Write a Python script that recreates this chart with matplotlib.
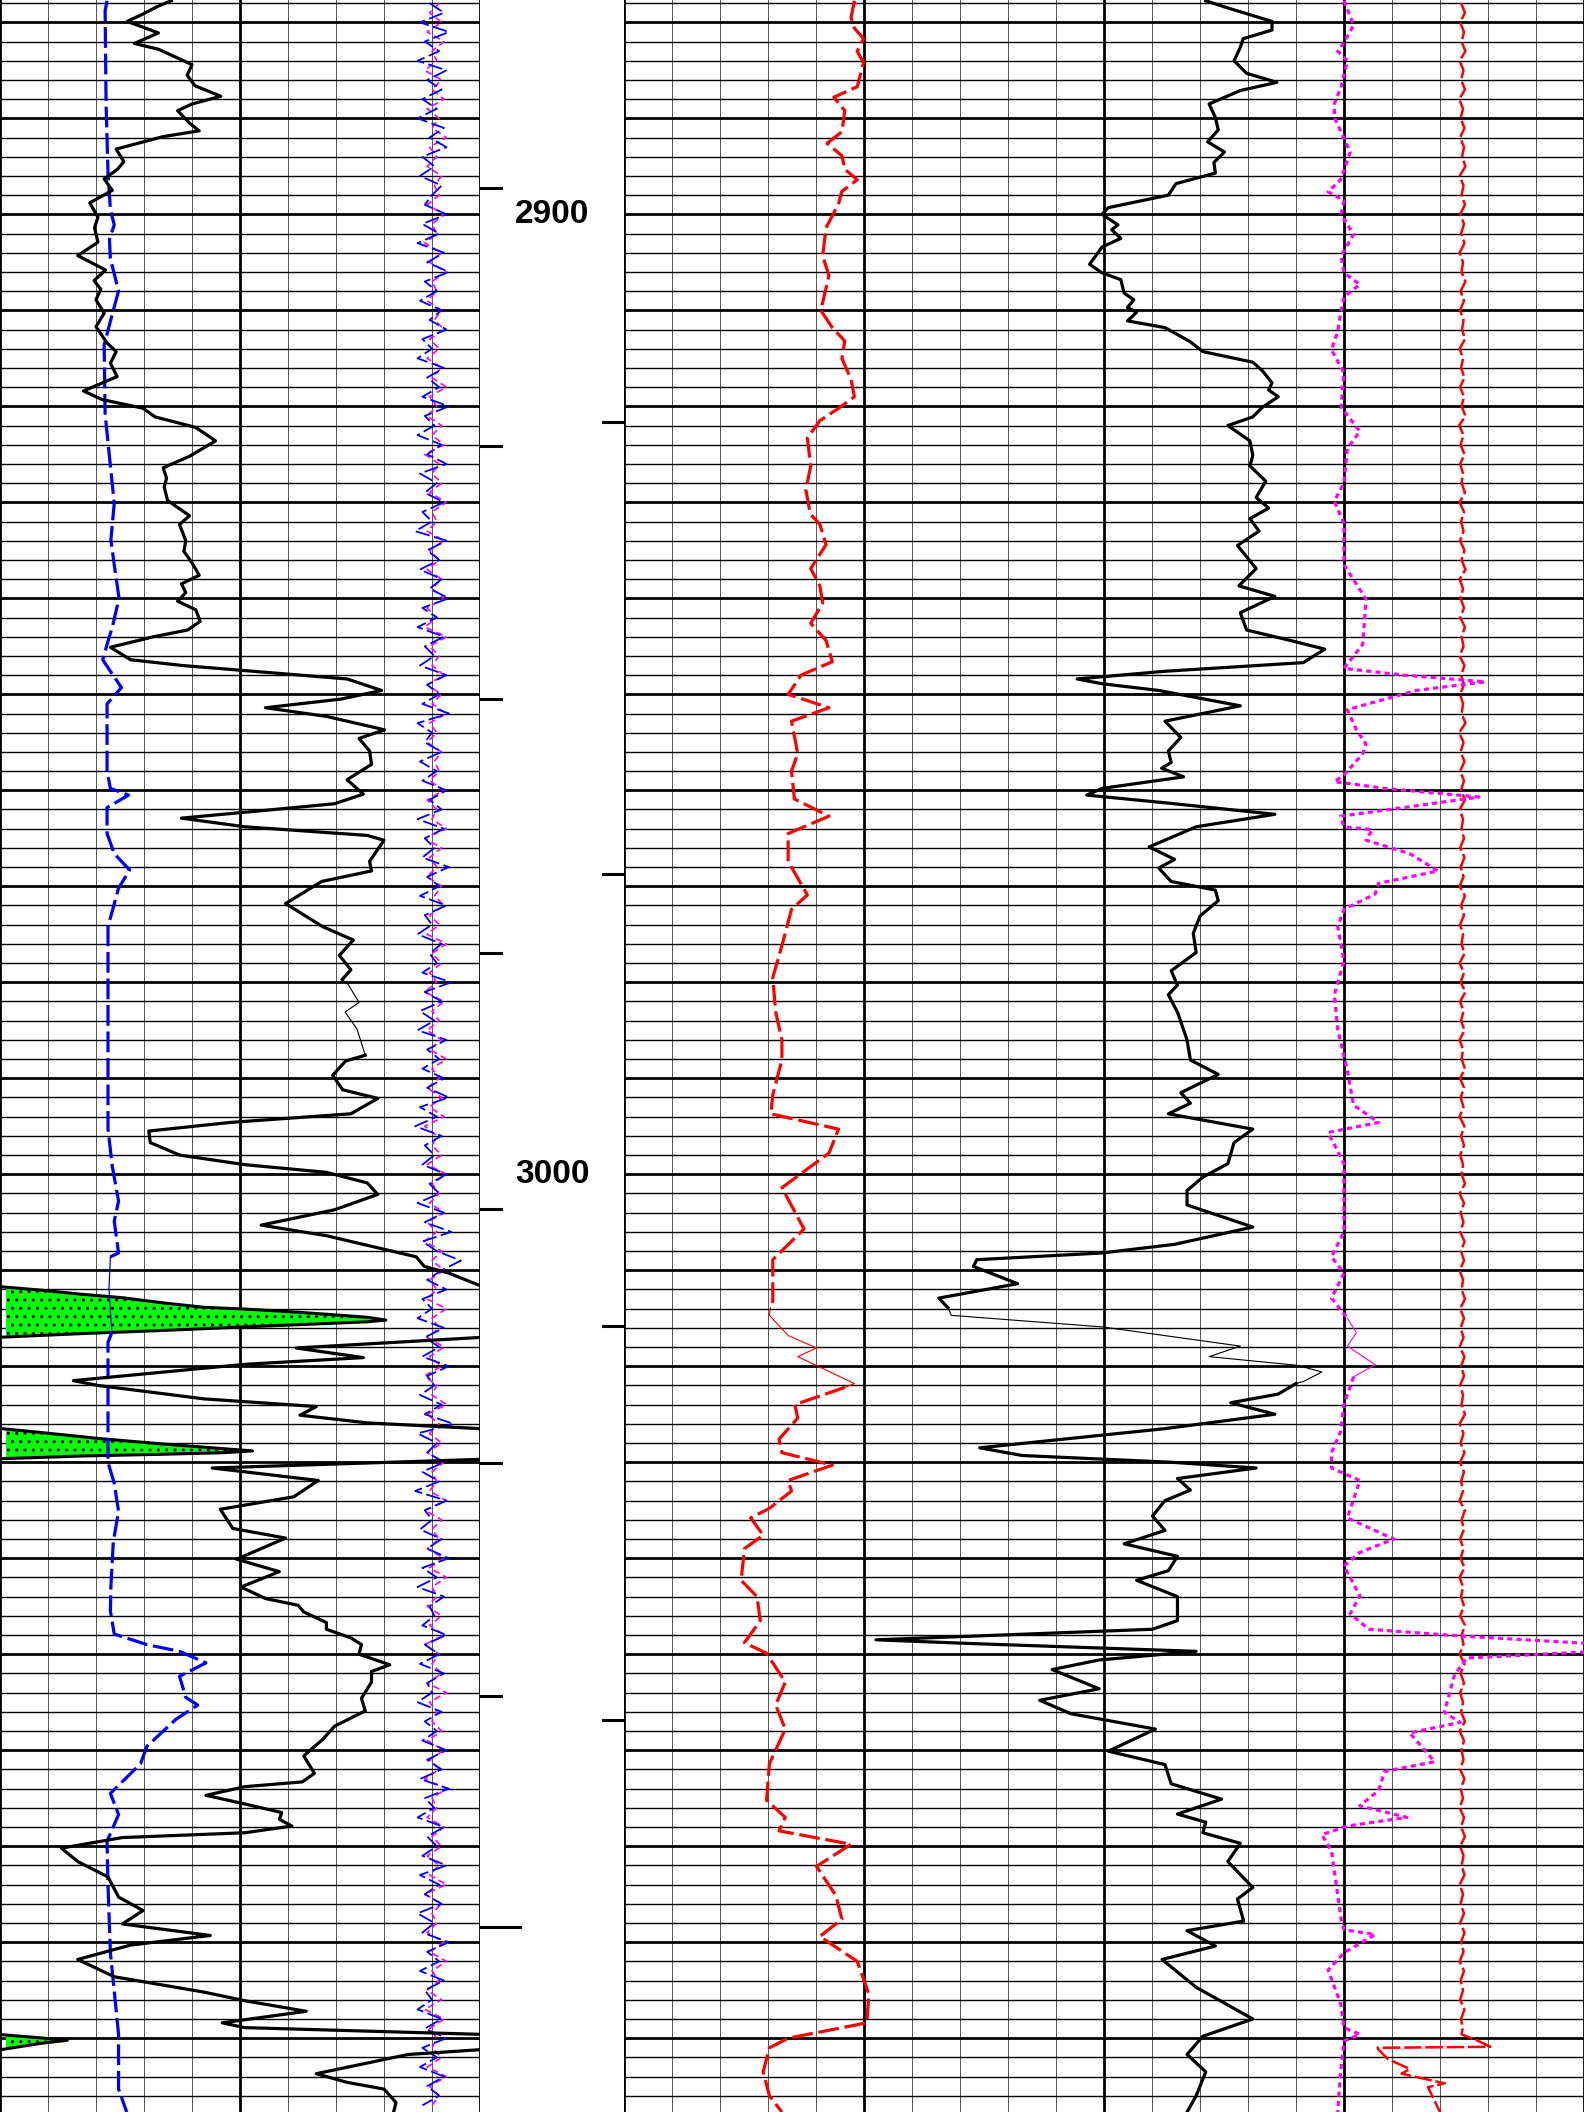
import numpy as np
import matplotlib
matplotlib.use('Agg')
import matplotlib.pyplot as plt

# ---------------- dados (profundidade / valor em divisoes) ----------------
# faixa esquerda: 0..10 divisoes ; faixa direita: 0..20 divisoes

gr_d = [2877.75, 2878.3, 2879.2, 2879.9, 2881.1, 2882.2, 2882.8, 2884.4, 2885.5, 2886.6,
        2887.7, 2888.5, 2889.2, 2890.5, 2891.3, 2891.9, 2893.2, 2894.5, 2895.3, 2896.3,
        2897.5, 2898.8, 2900.3, 2901.4, 2902.9, 2904.3, 2905.8, 2906.9, 2907.8, 2908.9,
        2910.3, 2911.7, 2913.4, 2914.3, 2915.5, 2916.9, 2918.4, 2919.3, 2920.2, 2921.1,
        2922.2, 2923.6, 2925.2, 2926.4, 2927.5, 2928.4, 2929.8, 2931.4, 2932.3, 2934.0,
        2935.1, 2936.3, 2937.6, 2938.5, 2939.4, 2940.3, 2941.2, 2942.4, 2943.3, 2944.0,
        2945.1, 2946.4, 2947.0, 2947.5, 2948.4, 2949.6, 2950.5, 2951.4, 2952.3, 2953.7,
        2954.6, 2955.9, 2957.3, 2958.9, 2960.4, 2961.4, 2962.1, 2962.9, 2963.8, 2964.7,
        2965.2, 2967.4, 2968.4, 2969.5, 2971.8, 2974.2, 2975.6, 2977.2, 2978.7, 2979.7,
        2980.2, 2982.1, 2983.1, 2984.9, 2987.6, 2988.2, 2989.7, 2991.2, 2992.1, 2993.7,
        2994.6, 2995.5, 2996.7, 2998.0, 2999.0, 2999.8, 3000.9, 3002.1, 3003.7, 3005.3,
        3006.4, 3008.6, 3009.6, 3010.3, 3011.6, 3012.5, 3014.5, 3016.2, 3017.0, 3018.1,
        3019.1, 3019.8, 3021.5, 3022.0, 3023.4, 3024.2, 3025.1, 3025.9, 3026.5, 3027.5,
        3028.8, 3029.7, 3030.6, 3031.9, 3033.6, 3034.9, 3036.9, 3037.9, 3040.1, 3041.4,
        3043.0, 3044.2, 3044.9, 3045.6, 3046.7, 3047.4, 3048.3, 3049.0, 3050.0, 3051.1,
        3051.8, 3052.9, 3054.6, 3055.9, 3057.5, 3058.9, 3060.0, 3060.6, 3062.4, 3063.3,
        3063.8, 3064.7, 3065.6, 3066.5, 3067.2, 3067.9, 3068.6, 3069.1, 3070.2, 3071.6,
        3073.2, 3075.3, 3076.7, 3078.1, 3079.3, 3080.3, 3081.8, 3083.6, 3085.2, 3086.1,
        3087.2, 3088.4, 3088.9, 3089.6, 3090.5, 3091.2, 3091.7, 3093.7, 3094.6, 3095.3,
        3096.7, 3097.7]
gr_v = [3.57, 3.3, 2.95, 2.65, 3.3, 2.8, 3.3, 4.0, 3.9, 4.06,
        4.6, 4.0, 3.7, 3.95, 4.15, 3.4, 2.42, 2.58, 2.45, 2.17,
        2.34, 1.87, 2.04, 1.97, 2.04, 1.62, 2.2, 1.96, 2.1, 2.0,
        2.17, 2.0, 2.23, 2.42, 2.3, 2.44, 1.74, 2.13, 2.98, 3.23,
        4.08, 4.49, 3.95, 3.4, 3.47, 3.42, 3.49, 3.95, 3.74, 3.87,
        3.83, 4.0, 4.15, 3.78, 3.87, 3.7, 4.08, 4.17, 3.91, 3.2,
        2.3, 2.72, 3.8, 5.02, 7.23, 7.95, 7.1, 5.53, 6.8, 8.01,
        7.48, 7.7, 7.74, 7.23, 7.57, 6.97, 5.5, 3.78, 5.1, 7.65,
        8.0, 7.7, 7.74, 6.7, 5.95, 6.72, 7.36, 7.07, 7.31, 7.13,
        7.25, 7.48, 7.19, 7.44, 7.61, 7.2, 6.93, 7.14, 7.87, 7.31,
        4.8, 3.1, 3.13, 3.74, 5.1, 6.8, 7.65, 7.87, 6.97, 5.44,
        6.8, 8.67, 8.84, 9.35, 10.0, 11.5, 12.5, 11.5, 10.0, 6.17,
        7.57, 5.1, 1.53, 2.04, 4.25, 6.59, 6.25, 7.65, 10.0, 12.0,
        12.0, 10.0, 4.42, 6.63, 6.12, 4.59, 4.85, 5.95, 4.93, 5.82,
        5.02, 5.53, 6.21, 6.33, 6.8, 6.8, 7.31, 7.53, 7.48, 8.12,
        7.74, 7.74, 7.53, 7.61, 6.97, 6.72, 6.46, 6.33, 6.55, 6.3,
        5.1, 4.29, 5.1, 5.87, 5.82, 6.08, 5.1, 2.55, 1.28, 1.62,
        2.25, 2.47, 2.98, 2.55, 4.38, 2.72, 1.62, 2.38, 4.25, 5.1,
        6.38, 4.63, 5.1, 10.0, 11.0, 10.0, 8.5, 6.59, 7.23, 8.0,
        8.25, 8.2]

azul_d = [2877.75, 2878.8, 2888.5, 2895.7, 2899.5, 2901.1, 2902.6, 2904.6, 2908.0, 2910.0,
          2913.6, 2920.8, 2926.2, 2930.1, 2933.9, 2936.5, 2940.0, 2943.0, 2944.8, 2946.4,
          2947.6, 2949.3, 2951.0, 2958.0, 2959.8, 2960.5, 2961.8, 2964.5, 2966.6, 2968.3,
          2970.2, 2974.2, 2988.1, 2995.3, 2999.2, 3002.8, 3004.9, 3008.2, 3008.6, 3012.0,
          3016.5, 3017.5, 3027.6, 3030.0, 3032.2, 3035.1, 3038.3, 3043.0, 3045.5, 3047.9,
          3049.0, 3049.7, 3050.9, 3052.3, 3054.5, 3055.3, 3056.8, 3059.6, 3061.4, 3064.5,
          3066.7, 3069.5, 3074.1, 3081.1, 3089.6, 3095.3, 3097.7]
azul_v = [2.23, 2.19, 2.21, 2.25, 2.3, 2.38, 2.28, 2.3, 2.47, 2.36,
          2.17, 2.19, 2.3, 2.38, 2.31, 2.38, 2.48, 2.34, 2.23, 2.14,
          2.3, 2.53, 2.23, 2.23, 2.3, 2.68, 2.23, 2.23, 2.38, 2.7,
          2.47, 2.25, 2.25, 2.25, 2.34, 2.47, 2.38, 2.47, 2.3, 2.27,
          2.33, 2.25, 2.25, 2.25, 2.38, 2.47, 2.36, 2.31, 2.3, 2.38,
          3.06, 3.74, 4.29, 3.74, 3.87, 4.12, 3.66, 3.06, 2.93, 2.3,
          2.47, 2.23, 2.25, 2.3, 2.47, 2.47, 2.64]

# curvas ruidosas da faixa esquerda, uma amostra por metro a partir de 2878
ruido_azul = [8.95, 9.25, 8.75, 9.35, 8.85, 9.15, 8.7, 9.3, 8.9, 9.2,
              8.8, 9.1, 8.7, 9.25, 8.95, 9.3, 8.8, 9.05, 8.75, 9.2,
              9.0, 8.85, 9.3, 8.8, 9.15, 8.7, 9.25, 8.9, 9.35, 8.85,
              9.1, 8.75, 9.2, 8.95, 9.3, 8.8, 9.0, 8.7, 9.25, 8.9,
              9.15, 8.8, 9.35, 8.85, 9.05, 8.7, 9.2, 8.9, 9.3, 8.75,
              9.1, 8.85, 9.25, 8.8, 9.0, 8.65, 9.3, 8.9, 9.15, 8.75,
              9.2, 8.95, 9.35, 8.8, 9.1, 8.7, 9.25, 8.85, 9.05, 8.75,
              9.3, 8.9, 9.15, 8.8, 9.35, 8.7, 9.0, 8.85, 9.2, 8.75,
              9.1, 8.8, 9.3, 8.95, 9.2, 8.7, 9.25, 8.85, 9.05, 8.8,
              9.35, 8.9, 9.15, 8.75, 9.3, 8.85, 9.0, 8.7, 9.2, 8.95,
              9.1, 8.8, 9.4, 8.85, 9.2, 8.75, 9.05, 8.7, 9.3, 8.9,
              9.15, 8.8, 9.25, 8.9, 9.35, 8.75, 9.1, 8.65, 9.2, 8.85,
              9.05, 8.8, 9.3, 8.95, 9.15, 8.7, 9.25, 8.85, 9.4, 8.8,
              9.1, 9.6, 9.2, 8.9, 9.3, 8.8, 9.0, 8.7, 9.25, 8.85,
              9.15, 8.8, 9.35, 8.9, 9.05, 8.75, 9.2, 8.85, 9.45, 8.7,
              9.1, 8.9, 9.25, 8.8, 9.15, 8.65, 9.3, 8.85, 9.0, 8.75,
              9.2, 8.9, 9.35, 8.8, 9.1, 8.7, 9.25, 8.95, 9.05, 8.8,
              9.3, 8.85, 9.15, 8.75, 9.25, 8.9, 9.0, 8.7, 9.2, 8.85,
              9.1, 8.8, 9.3, 8.9, 9.2, 8.75, 9.35, 8.85, 9.05, 8.7,
              9.25, 8.9, 9.1, 8.8, 9.3, 8.75, 9.15, 8.85, 9.2, 8.7,
              9.05, 8.8, 9.35, 8.9, 9.15, 8.75, 9.25, 8.85, 9.0, 8.7,
              9.2, 8.85, 9.3, 8.8, 9.1, 8.75, 9.25, 8.9, 9.15, 8.8]
ruido_mag = [9.15, 8.95, 9.2, 8.9, 9.25, 9.0, 9.1, 8.85, 9.2, 9.0,
             9.25, 8.9, 9.15, 9.0, 9.3, 8.95, 9.1, 8.9, 9.2, 9.05,
             9.15, 8.9, 9.25, 9.0, 9.1, 8.85, 9.2, 8.95, 9.3, 9.0,
             9.1, 8.9, 9.2, 9.05, 9.25, 8.95, 9.15, 8.9, 9.2, 9.0,
             9.3, 8.95, 9.1, 8.9, 9.2, 9.0, 9.25, 8.85, 9.15, 9.0,
             9.2, 8.95, 9.3, 9.0, 9.1, 8.9, 9.25, 8.95, 9.15, 8.9,
             9.2, 9.0, 9.25, 8.9, 9.1, 8.85, 9.3, 8.95, 9.15, 9.0,
             9.25, 8.9, 9.2, 9.0, 9.3, 8.95, 9.1, 8.9, 9.2, 9.05,
             9.15, 8.95, 9.25, 8.9, 9.1, 9.0, 9.3, 8.85, 9.2, 8.95,
             9.1, 8.9, 9.2, 9.05, 9.25, 8.95, 9.15, 8.9, 9.3, 9.0,
             9.2, 8.95, 9.1, 8.85, 9.25, 9.0, 9.15, 8.9, 9.2, 8.95,
             9.3, 9.0, 9.15, 8.9, 9.2, 8.95, 9.25, 8.85, 9.1, 9.0,
             9.2, 8.9, 9.3, 9.0, 9.15, 8.95, 9.25, 8.9, 9.1, 8.85,
             9.2, 9.0, 9.25, 8.95, 9.1, 8.9, 9.3, 9.0, 9.15, 8.9,
             9.25, 8.95, 9.2, 8.85, 9.1, 9.0, 9.3, 8.9, 9.15, 8.95,
             9.2, 8.9, 9.25, 9.0, 9.1, 8.95, 9.3, 8.85, 9.2, 9.0,
             9.15, 8.9, 9.25, 8.95, 9.3, 9.0, 9.1, 8.9, 9.2, 8.95,
             9.25, 8.85, 9.15, 9.0, 9.2, 8.9, 9.3, 8.95, 9.1, 9.0,
             9.2, 8.9, 9.25, 8.95, 9.15, 8.85, 9.3, 9.0, 9.1, 8.9,
             9.25, 9.0, 9.2, 8.9, 9.15, 8.95, 9.3, 8.85, 9.2, 9.0,
             9.1, 8.9, 9.25, 8.95, 9.3, 9.0, 9.15, 8.9, 9.2, 8.85,
             9.25, 8.95, 9.1, 9.0, 9.2, 8.9, 9.3, 8.95, 9.15, 9.0]

# areas verdes (arenito)
areia1_d = [3011.71, 3012.07, 3012.5, 3012.86, 3013.4, 3013.86, 3014.04, 3014.29, 3014.58,
            3014.9, 3015.19, 3015.37, 3015.55, 3015.9, 3016.27, 3016.6, 3016.98]
areia1_v = [0, 0.85, 1.7, 2.55, 3.4, 4.25, 5.1, 5.95, 6.8, 7.65, 8.04, 7.65, 6.8, 5.1, 3.4, 1.7, 0]
areia2_d = [3026.48, 3026.9, 3027.56, 3028.1, 3028.53, 3028.82, 3029.0, 3029.17, 3029.35, 3029.64]
areia2_v = [0, 0.85, 2.13, 3.4, 4.5, 5.26, 4.68, 3.4, 1.7, 0]
areia3_d = [3089.62, 3089.97, 3090.22, 3090.54, 3091.21]
areia3_v = [0, 0.85, 1.4, 0.85, 0]

# faixa direita
verm_d = [2877.75, 2879.5, 2880.6, 2881.7, 2883.0, 2884.2, 2886.7, 2887.8, 2889.2, 2891.4,
          2892.6, 2893.9, 2895.3, 2896.4, 2897.6, 2898.9, 2901.4, 2904.3, 2906.4, 2910.0,
          2911.8, 2913.2, 2915.0, 2917.2, 2919.0, 2920.2, 2921.5, 2923.3, 2926.2, 2928.7,
          2931.2, 2932.3, 2934.4, 2936.9, 2938.7, 2940.5, 2942.6, 2944.4, 2946.6, 2948.0,
          2950.0, 2951.4, 2952.8, 2956.2, 2958.0, 2960.9, 2962.7, 2964.5, 2967.4, 2970.9,
          2972.4, 2976.0, 2979.5, 2983.1, 2986.0, 2988.1, 2991.7, 2993.7, 2995.3, 2997.8,
          3001.4, 3005.7, 3008.9, 3013.2, 3013.9, 3014.7, 3016.8, 3018.1, 3019.0, 3021.8,
          3022.2, 3024.0, 3025.4, 3027.6, 3029.0, 3030.3, 3031.9, 3033.0, 3034.8, 3035.8,
          3037.6, 3039.0, 3042.3, 3044.0, 3046.5, 3048.8, 3049.9, 3052.9, 3055.3, 3057.8,
          3061.4, 3065.2, 3067.0, 3068.4, 3069.8, 3072.1, 3075.1, 3077.6, 3079.4, 3082.0,
          3085.4, 3088.4, 3090.0, 3091.0, 3093.5, 3096.0, 3097.7]
verm_v = [4.8, 4.73, 4.8, 4.99, 4.86, 4.99, 4.86, 4.37, 4.6, 4.54,
          4.23, 4.54, 4.6, 4.86, 4.54, 4.47, 4.21, 4.14, 4.27, 4.1,
          4.34, 4.6, 4.54, 4.73, 4.8, 4.47, 4.08, 3.82, 3.89, 3.79,
          3.88, 4.08, 4.21, 3.89, 4.08, 4.14, 3.89, 4.21, 4.34, 3.69,
          3.42, 4.27, 3.49, 3.62, 3.49, 3.55, 4.27, 3.42, 3.42, 3.82,
          3.49, 3.3, 3.1, 3.16, 3.29, 3.29, 3.1, 3.06, 4.47, 4.27,
          3.29, 3.75, 3.1, 3.1, 3.05, 3.03, 3.42, 4.01, 3.62, 4.8,
          4.6, 3.56, 3.62, 3.23, 3.29, 4.34, 3.42, 3.49, 3.03, 2.64,
          2.9, 2.51, 2.44, 2.77, 2.84, 2.51, 2.97, 3.36, 3.16, 3.36,
          3.03, 2.97, 3.36, 3.23, 4.73, 4.01, 4.41, 4.54, 4.08, 4.86,
          5.1, 5.06, 3.42, 3.03, 2.9, 3.03, 3.29]

preto_d = [2877.75, 2878.5, 2879.9, 2880.8, 2881.7, 2882.6, 2884.0, 2885.3, 2886.25, 2887.1,
           2888.5, 2889.9, 2891.2, 2892.45, 2893.5, 2894.6, 2895.7, 2896.8, 2898.0, 2899.3,
           2900.0, 2901.1, 2901.6, 2902.5, 2903.4, 2904.3, 2905.2, 2906.1, 2906.8, 2908.2,
           2908.9, 2909.7, 2910.2, 2911.1, 2911.8, 2913.25, 2914.3, 2915.4, 2916.3, 2917.55,
           2918.3, 2919.0, 2920.1, 2921.1, 2922.0, 2923.6, 2925.1, 2926.2, 2927.8, 2929.5,
           2930.6, 2931.7, 2933.0, 2934.5, 2936.9, 2938.7, 2939.8, 2941.5, 2943.3, 2944.4,
           2945.3, 2946.7, 2947.6, 2948.4, 2948.9, 2949.6, 2951.2, 2952.8, 2954.5, 2955.9,
           2957.1, 2957.7, 2958.6, 2959.8, 2960.5, 2961.3, 2962.5, 2963.8, 2965.9, 2967.2,
           2968.1, 2969.5, 2970.4, 2971.5, 2973.1, 2974.9, 2976.9, 2978.8, 2980.3, 2981.3,
           2983.1, 2986.0, 2988.1, 2989.6, 2991.5, 2992.6, 2993.7, 2995.3, 2996.7, 2998.9,
           3000.3, 3001.7, 3003.2, 3005.5, 3007.3, 3008.2, 3008.9, 3009.6, 3011.4, 3012.9,
           3013.6, 3013.9, 3014.7, 3015.9, 3017.9, 3019.0, 3019.9, 3020.6, 3021.6, 3021.8,
           3022.9, 3023.8, 3025.0, 3026.5, 3028.5, 3029.3, 3030.0, 3030.6, 3031.7, 3032.9,
           3034.0, 3035.6, 3037.1, 3038.5, 3039.8, 3041.3, 3042.3, 3044.0, 3046.5, 3047.4,
           3048.5, 3048.9, 3049.7, 3050.6, 3051.6, 3053.6, 3054.8, 3056.2, 3057.8, 3060.1,
           3061.5, 3063.5, 3065.1, 3066.65, 3067.5, 3068.6, 3069.7, 3071.6, 3074.3, 3075.5,
           3077.8, 3078.8, 3080.4, 3081.8, 3084.7, 3088.0, 3089.8, 3091.7, 3093.5, 3096.0,
           3097.7]
preto_v = [12.12, 12.58, 13.5, 13.5, 12.9, 12.84, 12.71, 12.97, 13.6, 12.84,
           12.19, 12.32, 12.38, 12.16, 12.51, 12.29, 12.32, 11.5, 11.34, 10.09,
           9.96, 10.29, 10.16, 10.35, 9.96, 9.83, 9.7, 9.96, 10.35, 10.42,
           10.62, 10.49, 10.68, 10.49, 11.27, 11.79, 12.06, 13.1, 13.3, 13.5,
           13.43, 13.63, 13.3, 13.1, 12.58, 13.04, 13.1, 13.04, 13.37, 13.17,
           13.43, 13.04, 13.23, 12.78, 13.17, 12.81, 13.56, 12.84, 12.97, 13.89,
           14.6, 14.15, 11.27, 9.44, 9.96, 11.14, 12.84, 11.27, 11.6, 11.34,
           11.4, 11.2, 11.66, 9.96, 9.64, 11.27, 13.56, 11.92, 10.94, 11.47,
           11.14, 11.4, 12.32, 12.38, 12.0, 11.86, 11.92, 11.4, 11.53, 11.34,
           11.53, 11.73, 11.8, 12.38, 11.6, 11.8, 11.34, 13.1, 12.71, 12.58,
           12.06, 11.73, 11.73, 13.1, 11.47, 9.96, 7.35, 7.28, 8.2, 6.56,
           6.69, 6.75, 6.82, 9.96, 12.84, 12.19, 14.02, 14.54, 14.15, 14.0,
           13.63, 12.64, 13.56, 11.27, 7.41, 8.3, 11.4, 13.17, 11.53, 11.8,
           11.27, 11.01, 11.27, 10.42, 11.53, 11.34, 10.68, 11.53, 11.53, 11.01,
           5.25, 7.3, 11.92, 9.9, 8.92, 9.9, 8.66, 9.31, 11.07, 10.09,
           11.27, 11.4, 12.45, 11.53, 12.12, 12.06, 12.84, 12.58, 13.1, 12.78,
           12.91, 11.73, 12.32, 11.21, 11.92, 13.1, 12.06, 11.73, 12.12, 11.92,
           11.73]

mag_d = [2877.75, 2880.3, 2882.1, 2883.0, 2884.0, 2886.7, 2888.5, 2889.9, 2893.5, 2896.4,
         2897.65, 2898.55, 2900.0, 2902.1, 2904.3, 2906.1, 2907.3, 2908.6, 2910.0, 2912.2,
         2914.1, 2916.5, 2920.1, 2922.6, 2924.4, 2927.95, 2929.9, 2932.2, 2936.5, 2940.1,
         2944.8, 2947.3, 2948.0, 2948.7, 2949.6, 2951.6, 2953.7, 2955.2, 2956.2, 2958.4,
         2959.1, 2959.8, 2960.7, 2961.8, 2962.7, 2963.8, 2964.1, 2965.2, 2966.6, 2968.4,
         2969.7, 2970.8, 2972.4, 2974.2, 2977.8, 2981.3, 2984.9, 2989.2, 2992.8, 2994.6,
         2995.65, 2998.9, 3006.0, 3008.6, 3010.3, 3012.9, 3015.0, 3016.5, 3017.9, 3019.85,
         3021.1, 3023.97, 3026.8, 3029.0, 3030.6, 3031.9, 3035.8, 3038.0, 3039.4, 3040.8,
         3043.9, 3045.8, 3047.4, 3048.1, 3049.0, 3049.7, 3050.4, 3052.2, 3056.05, 3057.1,
         3058.2, 3061.2, 3062.2, 3064.2, 3065.8, 3067.0, 3067.9, 3068.8, 3070.5, 3077.6,
         3078.7, 3079.2, 3081.1, 3082.9, 3086.4, 3088.9, 3089.6, 3090.3, 3093.5, 3097.7]
mag_v = [15.0, 15.2, 15.0, 14.87, 15.07, 14.94, 14.8, 14.8, 15.13, 14.93,
         14.67, 15.0, 14.94, 15.2, 14.94, 15.0, 15.33, 15.0, 14.94, 14.87,
         14.74, 15.0, 14.94, 15.33, 15.07, 15.0, 14.8, 15.0, 15.0, 15.46,
         15.39, 15.0, 16.24, 17.94, 16.5, 15.07, 15.26, 15.46, 15.39, 15.0,
         14.8, 15.85, 17.81, 16.24, 14.93, 15.0, 15.59, 15.46, 16.37, 16.96,
         15.72, 15.65, 15.0, 14.87, 15.0, 14.8, 14.87, 15.07, 15.2, 15.72,
         14.67, 15.0, 15.0, 14.74, 15.0, 14.74, 15.07, 15.26, 15.07, 15.65,
         15.2, 15.0, 14.93, 14.74, 14.74, 15.33, 15.07, 16.04, 15.33, 15.0,
         15.33, 15.13, 15.52, 17.42, 20.5, 20.3, 17.55, 17.3, 17.09, 17.42,
         16.37, 16.89, 15.85, 15.72, 15.33, 16.31, 15.07, 14.54, 14.74, 14.94,
         15.0, 15.65, 15.0, 14.67, 14.93, 15.0, 15.33, 15.0, 14.93, 14.87]

# curva vermelha ruidosa da direita: uma amostra por metro de 2878 a 3089, depois o final
ruido_verm = [17.44, 17.52, 17.42, 17.5, 17.45, 17.53, 17.41, 17.49, 17.44, 17.52,
              17.4, 17.48, 17.43, 17.51, 17.42, 17.5, 17.46, 17.53, 17.41, 17.49,
              17.45, 17.52, 17.42, 17.5, 17.44, 17.51, 17.41, 17.48, 17.45, 17.53,
              17.43, 17.5, 17.42, 17.49, 17.46, 17.52, 17.41, 17.48, 17.44, 17.51,
              17.42, 17.5, 17.45, 17.53, 17.4, 17.49, 17.43, 17.51, 17.42, 17.48,
              17.45, 17.52, 17.41, 17.5, 17.44, 17.49, 17.42, 17.51, 17.45, 17.53,
              17.41, 17.48, 17.43, 17.5, 17.42, 17.52, 17.45, 17.49, 17.41, 17.51,
              17.44, 17.5, 17.42, 17.48, 17.45, 17.53, 17.4, 17.49, 17.43, 17.51,
              17.42, 17.5, 17.44, 17.52, 17.41, 17.48, 17.45, 17.5, 17.42, 17.51,
              17.43, 17.49, 17.41, 17.52, 17.44, 17.5, 17.42, 17.48, 17.45, 17.51,
              17.41, 17.5, 17.43, 17.53, 17.42, 17.49, 17.44, 17.51, 17.41, 17.48,
              17.45, 17.52, 17.42, 17.5, 17.43, 17.49, 17.41, 17.51, 17.44, 17.5,
              17.42, 17.48, 17.45, 17.52, 17.41, 17.5, 17.43, 17.49, 17.42, 17.51,
              17.44, 17.5, 17.41, 17.48, 17.45, 17.52, 17.42, 17.5, 17.43, 17.49,
              17.41, 17.51, 17.44, 17.5, 17.42, 17.48, 17.45, 17.52, 17.41, 17.49,
              17.43, 17.51, 17.42, 17.5, 17.44, 17.48, 17.41, 17.52, 17.45, 17.5,
              17.42, 17.49, 17.43, 17.51, 17.41, 17.48, 17.44, 17.5, 17.42, 17.52,
              17.45, 17.49, 17.41, 17.51, 17.43, 17.5, 17.42, 17.48, 17.44, 17.52,
              17.41, 17.5, 17.45, 17.49, 17.42, 17.51, 17.43, 17.48, 17.41, 17.5,
              17.44, 17.52, 17.42, 17.49, 17.45, 17.51, 17.41, 17.48, 17.43, 17.5,
              17.42, 17.51, 17.44, 17.49, 17.41, 17.5, 17.43, 17.48, 17.42, 17.51,
              17.44, 17.47]
fim_verm_d = [3089.0, 3089.6, 3090.3, 3090.9, 3091.0, 3091.2, 3092.2, 3093.2, 3093.7, 3094.7,
              3095.1, 3097.7]
fim_verm_v = [17.47, 17.45, 17.8, 18.05, 15.7, 15.72, 15.92, 16.37, 16.2, 17.1,
              16.75, 17.0]

# marcas de profundidade na trilha central
marcas_esq = [2897.29, 2924.18, 2950.51, 2976.90, 3003.61, 3030.07, 3054.35]
marca_longa = [3078.38]
marcas_dir = [2921.67, 2968.69, 3015.77, 3056.83]
rotulos = [2900, 3000]

# ---------------- figura ----------------
W = 1584.0
TOPO, BASE = 2877.67, 3097.69

fig = plt.figure(figsize=(15.84, 21.12), dpi=100)
ax_e = fig.add_axes([0, 0, 480 / W, 1])
ax_c = fig.add_axes([480 / W, 0, 144 / W, 1])
ax_r = fig.add_axes([624 / W, 0, 960 / W, 1])


def grade(ax, ncol):
    for x in range(ncol + 1):
        if x % 5 == 0:
            ax.axvline(x, color='black', lw=2.0, zorder=1)
        else:
            ax.axvline(x, color='#555555', lw=0.7, zorder=1)
    for d in range(2878, 3098, 2):
        if d % 10 == 0:
            ax.axhline(d, color='black', lw=2.0, zorder=1)
        else:
            ax.axhline(d, color='black', lw=1.0, zorder=1)
    ax.set_xlim(0, ncol)
    ax.set_ylim(BASE, TOPO)
    ax.axis('off')


def curva(ax, prof, vals, cor, ls, lw, fino=None, lw_fino=0.8):
    prof = np.array(prof, dtype=float)
    vals = np.array(vals, dtype=float)
    if fino is None:
        ax.plot(vals, prof, color=cor, ls=ls, lw=lw, zorder=3)
        return
    a, b = fino
    dentro = (prof > a) & (prof < b)
    ax.plot(np.where(dentro, np.nan, vals), prof, color=cor, ls=ls, lw=lw, zorder=3)
    trecho = (prof >= a) & (prof <= b)
    ax.plot(vals[trecho], prof[trecho], color=cor, ls='-', lw=lw_fino, zorder=3)


TRACO = (0, (6.5, 1.8))
PONTO = (0, (1.6, 1.3))

grade(ax_e, 10)
grade(ax_r, 20)

# faixa esquerda
for ad, av in [(areia1_d, areia1_v), (areia2_d, areia2_v), (areia3_d, areia3_v)]:
    av = np.array(av)
    ax_e.fill_betweenx(ad, 0.125, np.maximum(av, 0.125), facecolor='#00ff00',
                       edgecolor='black', hatch='..', lw=0, zorder=2)
    ax_e.plot(av, ad, color='black', lw=2.2, zorder=3)

prof_ruido = np.arange(2878, 2878 + len(ruido_azul))
ax_e.plot(ruido_mag, prof_ruido, color='#ff00ff', ls=(0, (4, 2.5)), lw=1.2, zorder=3)
ax_e.plot(ruido_azul, prof_ruido, color='#0000ff', ls=(0, (8, 2.5)), lw=1.3, zorder=3)
curva(ax_e, azul_d, azul_v, '#0000ff', TRACO, 2.3, fino=(3008.6, 3016.5), lw_fino=0.9)
curva(ax_e, gr_d, gr_v, 'black', '-', 2.3, fino=(2979.7, 2987.6), lw_fino=0.8)

# faixa direita
prof_verm = list(np.arange(2878, 2878 + len(ruido_verm))) + fim_verm_d
ax_r.plot(ruido_verm + fim_verm_v, prof_verm, color='#ff0000', ls=(0, (7, 1.5)), lw=1.8, zorder=3)
curva(ax_r, verm_d, verm_v, '#ff0000', TRACO, 2.3, fino=(3013.9, 3022.2), lw_fino=0.8)
curva(ax_r, mag_d, mag_v, '#ff00ff', PONTO, 2.3, fino=(3015.0, 3021.1), lw_fino=0.8)
curva(ax_r, preto_d, preto_v, 'black', '-', 2.3, fino=(3013.9, 3021.8), lw_fino=0.8)

# trilha de profundidade
ax_c.set_xlim(0, 144)
ax_c.set_ylim(BASE, TOPO)
ax_c.axis('off')
for m in marcas_esq:
    ax_c.plot([0, 21], [m, m], color='black', lw=2.2)
for m in marca_longa:
    ax_c.plot([0, 40], [m, m], color='black', lw=2.2)
for m in marcas_dir:
    ax_c.plot([123, 144], [m, m], color='black', lw=2.2)
for r in rotulos:
    ax_c.text(72, r, str(r), ha='center', va='center', fontsize=24, fontweight='bold',
              family=['Liberation Sans Narrow', 'Liberation Sans', 'DejaVu Sans'])

fig.savefig('out.png', dpi=100)
